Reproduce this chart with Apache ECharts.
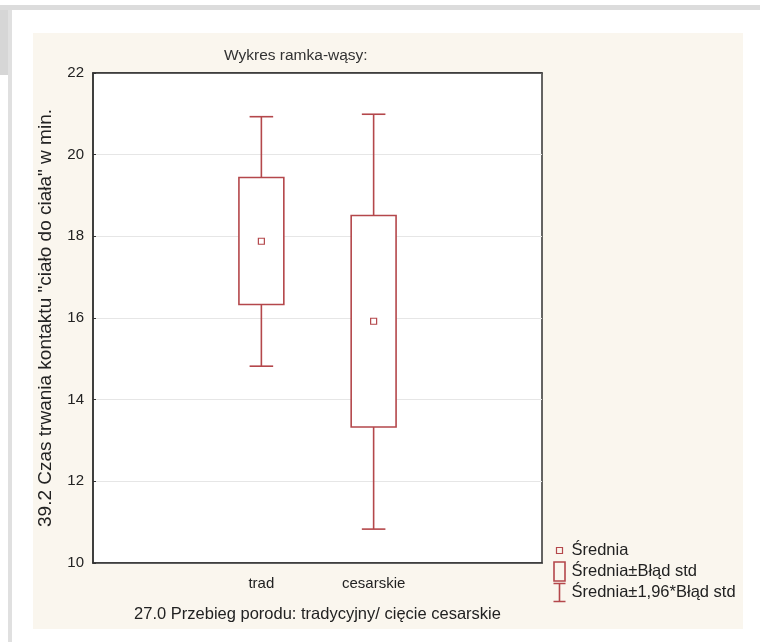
<!DOCTYPE html>
<html>
<head>
<meta charset="utf-8">
<style>
  html, body { margin: 0; padding: 0; background: #fff; }
  #chart { width: 760px; height: 642px; }
</style>
<script src="https://cdn.jsdelivr.net/npm/echarts@6.0.0/dist/echarts.min.js"></script>
</head>
<body>
<div id="chart"></div>
<script>
// dane
var categories = ['', 'trad', 'cesarskie', ''];
var groups = ['trad', 'cesarskie'];
var means = [17.88, 15.92];
var seLow = [16.33, 13.33];
var seHigh = [19.44, 18.51];
var ciLow = [14.82, 10.83];
var ciHigh = [20.93, 20.99];
var yTicks = [10, 12, 14, 16, 18, 20, 22];

var RED = '#b4474b';
var AXIS = '#333';
var FONT = 'Liberation Sans, Arial, sans-serif';

var chart = echarts.init(document.getElementById('chart'));

var boxData = groups.map(function (g, i) { return [g, seLow[i], seHigh[i]]; });
var whiskerData = groups.map(function (g, i) { return [g, ciLow[i], ciHigh[i], seLow[i], seHigh[i]]; });
var meanData = groups.map(function (g, i) { return [g, means[i]]; });

var option = {
  animation: false,
  textStyle: { fontFamily: FONT },
  // tło i ramki jak na zrzucie
  graphic: [
    { type: 'rect', z: -10, shape: { x: 0, y: 5, width: 760, height: 5 }, style: { fill: '#dcdcdc' } },
    { type: 'rect', z: -10, shape: { x: 0, y: 10, width: 8, height: 65 }, style: { fill: '#d6d6d6' } },
    { type: 'rect', z: -10, shape: { x: 8, y: 10, width: 4, height: 632 }, style: { fill: '#e0e0e0' } },
    { type: 'rect', z: -10, shape: { x: 33, y: 33, width: 710, height: 596 }, style: { fill: '#faf6ee' } }
  ],
  title: {
    text: 'Wykres ramka-wąsy:',
    left: 219,
    top: 43,
    textStyle: { fontSize: 15.5, fontWeight: 'normal', color: '#333', fontFamily: FONT }
  },
  legend: {
    orient: 'vertical',
    left: 550,
    top: 538,
    padding: 0,
    itemWidth: 14,
    itemHeight: 20,
    itemGap: -4,
    textStyle: { fontSize: 16.5, color: '#222', fontFamily: FONT },
    data: [
      { name: 'Średnia', icon: 'path://M0,0M14,20M4,7L10,7L10,13L4,13Z',
        itemStyle: { color: 'none', borderColor: RED, borderWidth: 1.2 } },
      { name: 'Średnia±Błąd std', icon: 'path://M0,0M14,20M1.5,0.5L12.5,0.5L12.5,19.5L1.5,19.5Z',
        itemStyle: { color: 'none', borderColor: RED, borderWidth: 1.6 } },
      { name: 'Średnia±1,96*Błąd std', icon: 'path://M0,0M14,20M1,1L13,1M7,1L7,19M1,19L13,19',
        itemStyle: { color: 'none', borderColor: RED, borderWidth: 1.6 } }
    ]
  },
  grid: {
    left: 93, top: 73, right: 218, bottom: 79,
    show: true, backgroundColor: '#fff', borderColor: AXIS, borderWidth: 1.5
  },
  xAxis: [{
    type: 'category',
    data: categories,
    boundaryGap: true,
    name: '27.0 Przebieg porodu: tradycyjny/ cięcie cesarskie',
    nameLocation: 'middle',
    nameGap: 43,
    nameTextStyle: { fontSize: 16.5, color: '#222' },
    axisLine: { lineStyle: { color: AXIS, width: 1.5 } },
    axisTick: { alignWithLabel: true, inside: true, length: 3, lineStyle: { color: AXIS } },
    axisLabel: { fontSize: 15, color: '#222', margin: 13 },
    splitLine: { show: false }
  }, {
    type: 'category',
    position: 'top',
    data: categories,
    boundaryGap: true,
    axisLine: { lineStyle: { color: AXIS, width: 1.5 } },
    axisTick: { alignWithLabel: true, inside: true, length: 3, lineStyle: { color: AXIS } },
    axisLabel: { show: false }
  }],
  yAxis: {
    type: 'value',
    min: yTicks[0],
    max: yTicks[yTicks.length - 1],
    interval: 2,
    name: '39.2 Czas trwania kontaktu "ciało do ciała" w min.',
    nameLocation: 'middle',
    nameGap: 38,
    nameTextStyle: { fontSize: 19, color: '#222' },
    axisLine: { show: true, lineStyle: { color: AXIS, width: 1.5 } },
    axisTick: { show: true, inside: true, length: 3, lineStyle: { color: AXIS } },
    axisLabel: { fontSize: 15, color: '#222', margin: 9 },
    splitLine: { show: true, lineStyle: { color: '#e6e6e6', width: 1 } }
  },
  series: [
    {
      name: 'Średnia±Błąd std',
      type: 'custom',
      z: 3,
      data: boxData,
      renderItem: function (params, api) {
        var top = api.coord([api.value(0), api.value(2)]);
        var bot = api.coord([api.value(0), api.value(1)]);
        var w = api.size([1, 0])[0] * 0.4;
        return {
          type: 'rect',
          shape: { x: top[0] - w / 2, y: top[1], width: w, height: bot[1] - top[1] },
          style: { fill: '#fff', stroke: RED, lineWidth: 1.6 }
        };
      }
    },
    {
      name: 'Średnia±1,96*Błąd std',
      type: 'custom',
      z: 3,
      data: whiskerData,
      renderItem: function (params, api) {
        var c = api.value(0);
        var lo = api.coord([c, api.value(1)]);
        var hi = api.coord([c, api.value(2)]);
        var bLo = api.coord([c, api.value(3)]);
        var bHi = api.coord([c, api.value(4)]);
        var cap = api.size([1, 0])[0] * 0.21;
        var st = { stroke: RED, lineWidth: 1.6, fill: null };
        return {
          type: 'group',
          children: [
            { type: 'line', shape: { x1: hi[0], y1: hi[1], x2: bHi[0], y2: bHi[1] }, style: st },
            { type: 'line', shape: { x1: bLo[0], y1: bLo[1], x2: lo[0], y2: lo[1] }, style: st },
            { type: 'line', shape: { x1: hi[0] - cap / 2, y1: hi[1], x2: hi[0] + cap / 2, y2: hi[1] }, style: st },
            { type: 'line', shape: { x1: lo[0] - cap / 2, y1: lo[1], x2: lo[0] + cap / 2, y2: lo[1] }, style: st }
          ]
        };
      }
    },
    {
      name: 'Średnia',
      type: 'scatter',
      z: 4,
      symbol: 'rect',
      symbolSize: 6,
      data: meanData,
      itemStyle: { color: '#fff', borderColor: RED, borderWidth: 1.2, opacity: 1 }
    }
  ]
};

chart.setOption(option);
</script>
</body>
</html>
